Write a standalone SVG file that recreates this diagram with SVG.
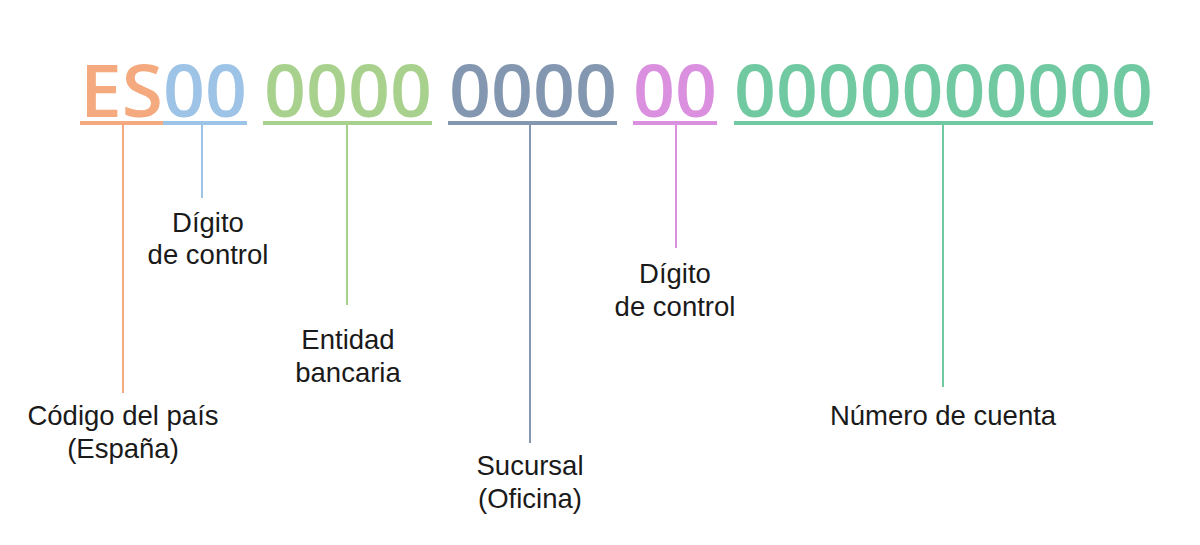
<svg xmlns="http://www.w3.org/2000/svg" width="1200" height="545" viewBox="0 0 1200 545">
<style>
.big{font-family:"Open Sans","Liberation Sans",sans-serif;font-weight:600;font-size:73px}
.lbl{font-family:"Liberation Sans",Arial,sans-serif;font-size:27.5px;fill:#1a1a1a;text-anchor:middle}
.ul{stroke-width:4}
.ln{stroke-width:2}
</style>
<rect width="1200" height="545" fill="#ffffff"/>
<g id="code">
<text class="big" x="80" y="117" fill="#F4A97E" textLength="83" lengthAdjust="spacingAndGlyphs">ES</text>
<text class="big" x="163" y="117" fill="#9DC3E6" textLength="84" lengthAdjust="spacingAndGlyphs">00</text>
<text class="big" x="264" y="117" fill="#A9D18E" textLength="168" lengthAdjust="spacingAndGlyphs">0000</text>
<text class="big" x="449" y="117" fill="#8497B0" textLength="168" lengthAdjust="spacingAndGlyphs">0000</text>
<text class="big" x="633" y="117" fill="#DA8FDF" textLength="84" lengthAdjust="spacingAndGlyphs">00</text>
<text class="big" x="734" y="117" fill="#70C9A0" textLength="419" lengthAdjust="spacingAndGlyphs">0000000000</text>
</g>
<g id="connectors" fill="none">
<line class="ul" x1="80" y1="123" x2="163" y2="123" stroke="#F4A97E"/>
<line class="ul" x1="163" y1="123" x2="247" y2="123" stroke="#9DC3E6"/>
<line class="ul" x1="263" y1="123" x2="432" y2="123" stroke="#A9D18E"/>
<line class="ul" x1="448" y1="123" x2="617" y2="123" stroke="#8497B0"/>
<line class="ul" x1="633" y1="123" x2="717" y2="123" stroke="#DA8FDF"/>
<line class="ul" x1="734" y1="123" x2="1153" y2="123" stroke="#70C9A0"/>
<line class="ln" x1="123" y1="125" x2="123" y2="393" stroke="#F4A97E"/>
<line class="ln" x1="202" y1="125" x2="202" y2="198" stroke="#9DC3E6"/>
<line class="ln" x1="347" y1="125" x2="347" y2="305" stroke="#A9D18E"/>
<line class="ln" x1="530" y1="125" x2="530" y2="443" stroke="#8497B0"/>
<line class="ln" x1="676" y1="125" x2="676" y2="248" stroke="#DA8FDF"/>
<line class="ln" x1="943" y1="125" x2="943" y2="387" stroke="#70C9A0"/>
</g>
<g id="label-pais"><text class="lbl" x="123" y="425">Código del país</text><text class="lbl" x="123" y="458">(España)</text></g>
<g id="label-dc1"><text class="lbl" x="208" y="232">Dígito</text><text class="lbl" x="208" y="264">de control</text></g>
<g id="label-entidad"><text class="lbl" x="348" y="349">Entidad</text><text class="lbl" x="348" y="382">bancaria</text></g>
<g id="label-sucursal"><text class="lbl" x="530" y="475">Sucursal</text><text class="lbl" x="530" y="508">(Oficina)</text></g>
<g id="label-dc2"><text class="lbl" x="675" y="283">Dígito</text><text class="lbl" x="675" y="316">de control</text></g>
<g id="label-cuenta"><text class="lbl" x="943" y="425">Número de cuenta</text></g>
</svg>
